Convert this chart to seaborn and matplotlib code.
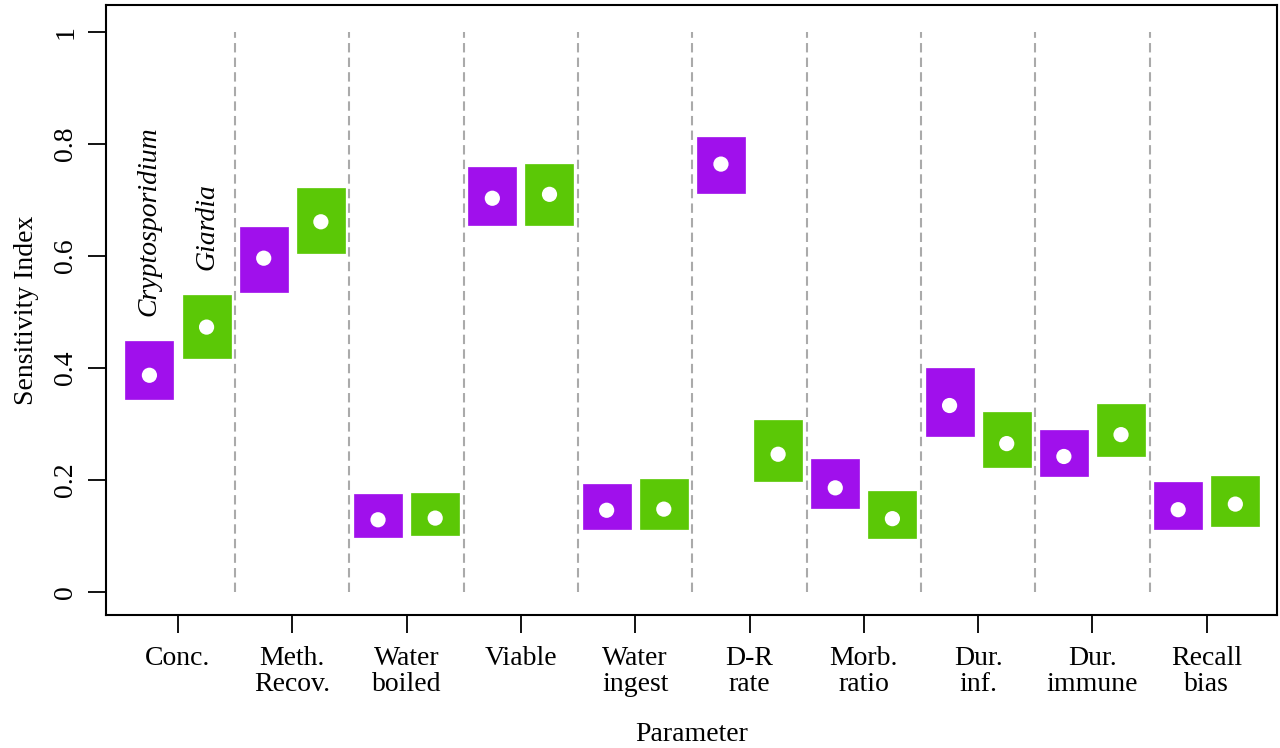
import numpy as np
import pandas as pd
import seaborn as sns
import matplotlib.pyplot as plt

params = ["Conc.", "Meth.\nRecov.", "Water\nboiled", "Viable", "Water\ningest",
          "D-R\nrate", "Morb.\nratio", "Dur.\ninf.", "Dur.\nimmune", "Recall\nbias"]

crypto_mean = [0.387, 0.596, 0.129, 0.703, 0.146, 0.764, 0.186, 0.333, 0.242, 0.147]
crypto_lo = [0.345, 0.536, 0.098, 0.655, 0.112, 0.712, 0.150, 0.278, 0.207, 0.112]
crypto_hi = [0.448, 0.652, 0.175, 0.759, 0.193, 0.813, 0.237, 0.400, 0.289, 0.196]

giardia_mean = [0.473, 0.661, 0.132, 0.710, 0.148, 0.246, 0.131, 0.265, 0.281, 0.157]
giardia_lo = [0.418, 0.605, 0.102, 0.656, 0.112, 0.199, 0.097, 0.223, 0.243, 0.118]
giardia_hi = [0.530, 0.721, 0.177, 0.764, 0.201, 0.308, 0.180, 0.322, 0.336, 0.208]

purple = "#A010EC"
green = "#5BC806"

sns.set_style("white")
plt.rcParams["font.family"] = ["Liberation Serif", "DejaVu Serif"]
plt.rcParams["text.color"] = "black"
plt.rcParams["axes.labelcolor"] = "black"
plt.rcParams["xtick.color"] = "black"
plt.rcParams["ytick.color"] = "black"

x = np.arange(1, len(params) + 1)
df = pd.DataFrame({
    "x": np.concatenate([x - 0.25, x + 0.25]),
    "mean": crypto_mean + giardia_mean,
    "lo": crypto_lo + giardia_lo,
    "hi": crypto_hi + giardia_hi,
    "species": ["Cryptosporidium"] * len(x) + ["Giardia"] * len(x),
})

fs = 20

fig = plt.figure(figsize=(12.8, 7.48), dpi=100)
ax = fig.add_axes([0.0828, 0.1778, 0.9149, 0.8155])

# separators between parameters
for b in x[:-1] + 0.5:
    ax.plot([b, b], [0, 1], color="#AAAAAA", lw=1.5, ls=(0, (4.5, 2.5)), zorder=1)

colors = {"Cryptosporidium": purple, "Giardia": green}
for sp, sub in df.groupby("species"):
    ax.bar(sub["x"], sub["hi"] - sub["lo"], bottom=sub["lo"], width=0.42,
           color=colors[sp], edgecolor=colors[sp], lw=0.5, zorder=2)

sns.scatterplot(data=df, x="x", y="mean", ax=ax, color="white", s=120,
                edgecolor="none", zorder=3, legend=False)

# species labels above the first pair of boxes
ax.text(1 - 0.25, crypto_hi[0] + 0.045, "Cryptosporidium", rotation=90,
        ha="center", va="bottom", style="italic", fontsize=fs)
ax.text(1 + 0.25, giardia_hi[0] + 0.045, "Giardia", rotation=90,
        ha="center", va="bottom", style="italic", fontsize=fs)

ax.set_xlim(0.37, 10.615)
ax.set_ylim(-0.041, 1.048)
ax.set_xticks(x)
ax.set_xticklabels(params, fontsize=fs, linespacing=1.05)
ax.set_yticks([0, 0.2, 0.4, 0.6, 0.8, 1.0])
ax.set_yticklabels(["0", "0.2", "0.4", "0.6", "0.8", "1"], fontsize=fs,
                   rotation=90, va="center")
ax.tick_params(axis="both", direction="out", length=13, width=1.3,
               bottom=True, left=True)
ax.tick_params(axis="x", pad=9)
ax.tick_params(axis="y", pad=7)
for s in ax.spines.values():
    s.set_color("black")
    s.set_linewidth(1.5)

ax.set_xlabel("Parameter", fontsize=fs, labelpad=18)
ax.set_ylabel("Sensitivity Index", fontsize=fs, labelpad=10)

fig.savefig("out.png", dpi=100)
